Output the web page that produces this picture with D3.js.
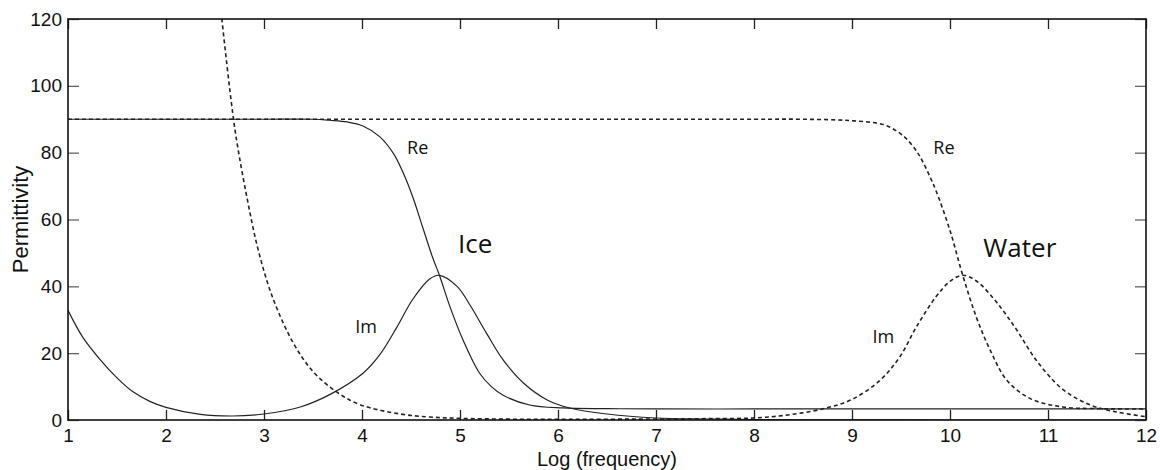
<!DOCTYPE html>
<html>
<head>
<meta charset="utf-8">
<script src="https://cdn.jsdelivr.net/npm/d3@7"></script>
<style>
  body { margin: 0; background: #fff; }
  text { font-family: "Liberation Sans", Arial, sans-serif; }
</style>
</head>
<body>
<div id="chart"></div>
<script>
// values (x = log frequency, y = permittivity)
const iceReX = [1, 2, 3, 3.5, 3.67, 3.85, 4.01, 4.18, 4.32, 4.42, 4.52, 4.62, 4.72, 4.79, 4.9, 5.03, 5.2, 5.32, 5.44, 5.71, 6.05, 6.5, 7, 8, 9, 10, 11, 12];
const iceReY = [90, 90, 90, 90, 89.7, 89.2, 88, 84.8, 79.8, 74, 66.6, 57.6, 48.7, 43.3, 33.7, 24, 14, 10, 7.4, 4.5, 3.6, 3.4, 3.3, 3.3, 3.3, 3.3, 3.3, 3.3];

const iceImX = [1, 1.15, 1.33, 1.5, 1.66, 1.84, 2, 2.35, 2.68, 3, 3.37, 3.67, 4.01, 4.18, 4.35, 4.52, 4.69, 4.79, 4.97, 5.1, 5.27, 5.44, 5.65, 5.89, 6.12, 6.5, 7, 7.5, 8, 9, 10, 11, 12];
const iceImY = [32.8, 24.8, 18, 12.6, 8.5, 5.5, 3.8, 1.7, 1.2, 1.8, 3.9, 7.6, 14, 19.5, 27.5, 36.2, 42.2, 43.3, 40, 34.5, 26, 18, 11, 6, 3.6, 1.8, 0.6, 0.3, 0.15, 0.05, 0, 0, 0];

const waterReX = [1, 2, 3, 4, 5, 6, 7, 8, 8.5, 8.98, 9.32, 9.47, 9.56, 9.66, 9.72, 9.8, 9.86, 10, 10.13, 10.27, 10.41, 10.58, 10.82, 11.15, 11.5, 12];
const waterReY = [90, 90, 90, 90, 90, 90, 90, 90, 90, 89.6, 88.4, 86.2, 84, 80.4, 77.4, 72.5, 68.4, 56.7, 43.3, 30.7, 20.9, 11.9, 6.4, 3.9, 3.4, 3.3];

const waterImX = [2.5, 2.57, 2.68, 2.73, 2.83, 2.94, 3.09, 3.3, 3.5, 3.74, 3.98, 4.39, 4.69, 5, 5.5, 6, 7, 7.5, 7.99, 8.37, 8.74, 9.01, 9.29, 9.49, 9.66, 9.86, 10, 10.13, 10.27, 10.44, 10.56, 10.68, 10.89, 11.15, 11.43, 11.7, 12];
const waterImY = [141, 120, 92, 82, 66, 51, 36.5, 23, 14.5, 8.4, 4.6, 1.8, 0.9, 0.5, 0.25, 0.2, 0.3, 0.4, 0.6, 1.6, 3.6, 6.3, 12, 19, 28, 37, 41.5, 43.3, 41.6, 36.5, 32, 27, 17.5, 9.2, 4.5, 2.4, 1];

const xTicks = [1, 2, 3, 4, 5, 6, 7, 8, 9, 10, 11, 12];
const yTicks = [0, 20, 40, 60, 80, 100, 120];

// curve labels: [text, x, y, size]
const labels = [
    ["Re", 4.46, 79.7, 18],
    ["Ice", 4.98, 49.9, 26],
    ["Im", 3.93, 26, 18],
    ["Re", 9.83, 79.7, 18],
    ["Water", 10.34, 48.7, 26],
    ["Im", 9.21, 23, 18]
];

const W = 1160, H = 470;
const margin = { top: 19, right: 14, bottom: 50, left: 68 };
const width = W - margin.left - margin.right;
const height = H - margin.top - margin.bottom;

const svg = d3.select("#chart").append("svg")
    .attr("width", W)
    .attr("height", H);

const g = svg.append("g")
    .attr("transform", `translate(${margin.left},${margin.top})`);

const x = d3.scaleLinear().domain([1, 12]).range([0, width]);
const y = d3.scaleLinear().domain([0, 120]).range([height, 0]);

g.append("clipPath").attr("id", "clip")
    .append("rect").attr("width", width).attr("height", height);

const line = d3.line()
    .x(d => x(d[0]))
    .y(d => y(d[1]))
    .curve(d3.curveCatmullRom.alpha(0.5));

const series = [
    { xs: waterReX, ys: waterReY, dash: "4,3" },
    { xs: waterImX, ys: waterImY, dash: "4,3" },
    { xs: iceReX, ys: iceReY, dash: null },
    { xs: iceImX, ys: iceImY, dash: null }
];

g.append("g").attr("clip-path", "url(#clip)")
    .selectAll("path")
    .data(series)
    .join("path")
    .attr("d", s => line(s.xs.map((v, i) => [v, s.ys[i]])))
    .attr("fill", "none")
    .attr("stroke", "#222")
    .attr("stroke-width", d => d.dash ? 1.6 : 1.2)
    .attr("stroke-dasharray", d => d.dash);

// axes with inward ticks on all four sides
const xb = g.append("g")
    .attr("transform", `translate(0,${height})`)
    .call(d3.axisBottom(x).tickValues(xTicks).tickSize(-10).tickPadding(9).tickFormat(d3.format("d")));
const xt = g.append("g")
    .call(d3.axisTop(x).tickValues(xTicks).tickSize(-10).tickFormat(""));
const yl = g.append("g")
    .call(d3.axisLeft(y).tickValues(yTicks).tickSize(-11).tickPadding(6));
const yr = g.append("g")
    .attr("transform", `translate(${width},0)`)
    .call(d3.axisRight(y).tickValues(yTicks).tickSize(-11).tickFormat(""));

[xb, xt, yl, yr].forEach(a => {
    a.select(".domain").remove();
    a.selectAll("text").attr("fill", "#111").style("font-size", "19px");
});
[xb, xt].forEach(a => a.selectAll(".tick line").attr("stroke", "#222").attr("stroke-width", 1.3));
[yl, yr].forEach(a => a.selectAll(".tick line").attr("stroke", "#666").attr("stroke-width", 1.3));

g.append("rect")
    .attr("width", width)
    .attr("height", height)
    .attr("fill", "none")
    .attr("stroke", "#111")
    .attr("stroke-width", 1.6);

g.selectAll(".lbl")
    .data(labels)
    .join("text")
    .attr("class", "lbl")
    .attr("x", d => x(d[1]))
    .attr("y", d => y(d[2]))
    .style("font-family", "'Open Sans', sans-serif")
    .style("font-size", d => d[3] + "px")
    .attr("fill", "#111")
    .text(d => d[0]);

svg.append("text")
    .attr("x", margin.left + x(6.5))
    .attr("y", H - 4)
    .attr("text-anchor", "middle")
    .style("font-size", "20px")
    .attr("fill", "#111")
    .text("Log (frequency)");

svg.append("text")
    .attr("transform", `translate(28,${margin.top + y(60)}) rotate(-90)`)
    .attr("text-anchor", "middle")
    .style("font-size", "22px")
    .attr("fill", "#111")
    .text("Permittivity");
</script>
</body>
</html>
